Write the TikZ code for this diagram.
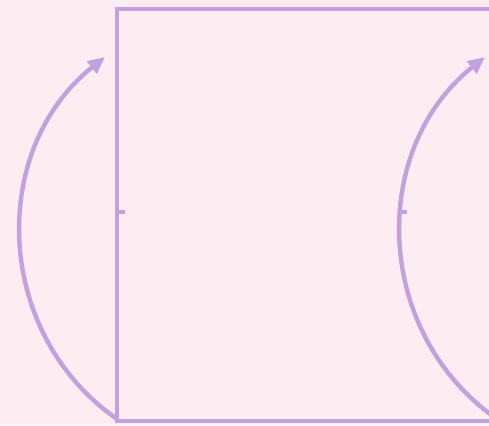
\documentclass[tikz,border=0pt]{standalone}
\usetikzlibrary{arrows.meta}
\definecolor{bgpink}{RGB}{253,236,242}
\definecolor{lilac}{RGB}{195,160,222}
\begin{document}
\begin{tikzpicture}[x=1pt,y=-1pt,
  edge/.style={draw=lilac,line width=4.6pt},
  loop/.style={draw=lilac,line width=4.4pt,-{Triangle[length=17pt,width=15pt]}},
  tick/.style={draw=lilac,line width=4pt}]
\useasboundingbox (0,0) rectangle (489,425);
\fill[bgpink] (0,0) rectangle (489,425);
\clip (0,0) rectangle (489,425);
\draw[edge] (540,9) -- (117,9) -- (117,421) -- (540,421);
\coordinate (ls) at (117,419);
\coordinate (le) at (105,57);
\coordinate (rs) at (497,419);
\coordinate (re) at (485,57);
\draw[loop] (ls) .. controls (-6,333.5) and (-12,150.3) .. (le);
\draw[loop] (rs) .. controls (374,333.5) and (368,150.3) .. (re);
\coordinate (lt) at (117,212);
\coordinate (lt2) at (125,212);
\coordinate (rt) at (400,212);
\coordinate (rt2) at (407,212);
\draw[tick] (lt) -- (lt2);
\draw[tick] (rt) -- (rt2);
\end{tikzpicture}
\end{document}
